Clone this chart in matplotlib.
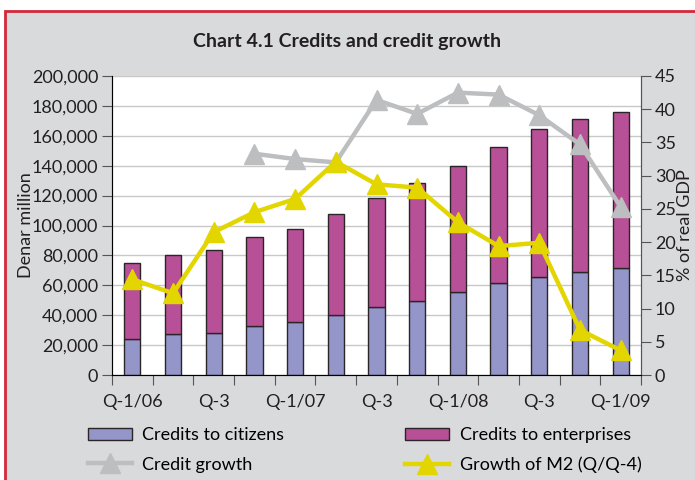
import matplotlib
matplotlib.use("Agg")
import matplotlib.pyplot as plt
from matplotlib.patches import Rectangle, Patch
from matplotlib.lines import Line2D
import numpy as np

plt.rcParams['font.family'] = ['Lato', 'DejaVu Sans']

quarters = ["Q-1/06", "Q-2/06", "Q-3/06", "Q-4/06", "Q-1/07", "Q-2/07", "Q-3/07",
            "Q-4/07", "Q-1/08", "Q-2/08", "Q-3/08", "Q-4/08", "Q-1/09"]
tick_labels = ["Q-1/06", "", "Q-3", "", "Q-1/07", "", "Q-3", "", "Q-1/08", "", "Q-3", "", "Q-1/09"]
citizens = [24200, 27100, 28400, 32700, 35600, 40000, 45600, 49800, 55700, 61500, 65700, 68900, 71600]
totals = [74700, 80500, 83400, 92100, 97700, 107900, 118200, 128200, 139800, 152700, 164300, 171200, 175700]
enterprises = [t - c for t, c in zip(totals, citizens)]
credit_growth = [None, None, None, 33.3, 32.5, 32.0, 41.4, 39.3, 42.5, 42.2, 39.1, 34.7, 25.3]
m2_growth = [14.4, 12.3, 21.5, 24.5, 26.5, 32.1, 28.7, 28.2, 23.0, 19.4, 19.9, 6.8, 3.7]

c_cit = "#9495C9"
c_ent = "#B85098"
c_grey = "#BDBEC0"
c_yel = "#E3D600"
edge = "#2A2526"
txt = "#231F20"
FS = 13

fig = plt.figure(figsize=(6.95, 4.80), dpi=100)
fig.patch.set_facecolor("white")

bg = fig.add_axes([0, 0, 1, 1], zorder=-5)
bg.set_xlim(0, 695)
bg.set_ylim(480, 0)
bg.axis('off')
bg.add_patch(Rectangle((5, 11), 700, 480, facecolor="#D9DADC", edgecolor="#D3283B", linewidth=2.0))

ax = fig.add_axes([112/695, 105/480, 529/695, 299/480], zorder=1)
ax.set_facecolor("white")
x = np.arange(len(quarters))
ax.bar(x, citizens, width=0.4, color=c_cit, edgecolor=edge, linewidth=1.0, zorder=3)
ax.bar(x, enterprises, bottom=citizens, width=0.4, color=c_ent, edgecolor=edge, linewidth=1.0, zorder=3)
ax.set_xlim(-0.5, len(quarters) - 0.5)
ax.set_ylim(0, 200000)
ax.set_yticks(np.arange(0, 200001, 20000))
ax.set_yticklabels([f"{v:,}" for v in range(0, 200001, 20000)], fontsize=FS, color=txt)
ax.yaxis.grid(True, color="#C8C8C8", linewidth=1.0, zorder=0)
ax.set_axisbelow(True)
ax.set_xticks(np.arange(-0.5, len(quarters), 1.0))
ax.set_xticklabels([])
ax.set_xticks(x, minor=True)
ax.set_xticklabels(tick_labels, minor=True, fontsize=FS, color=txt)
ax.tick_params(axis='x', which='minor', length=0, pad=14)
ax.tick_params(axis='x', which='major', length=7, color="#555555", direction='out')
ax.tick_params(axis='y', length=7, color="#555555", direction='out', pad=3)
ax.spines['top'].set_visible(False)
for s in ['left', 'bottom', 'right']:
    ax.spines[s].set_color("#555555")
ax.set_ylabel("Denar million", fontsize=FS, color=txt)
ax.yaxis.set_label_coords((34 - 112) / 529, 0.5)

ax2 = ax.twinx()
cg_x = [i for i, v in enumerate(credit_growth) if v is not None]
cg_y = [v for v in credit_growth if v is not None]
ax2.plot(cg_x, cg_y, color=c_grey, linewidth=3.2, marker='^', markersize=15, zorder=4)
ax2.plot(x, m2_growth, color=c_yel, linewidth=3.2, marker='^', markersize=15, zorder=5)
ax2.set_ylim(0, 45)
ax2.set_yticks(np.arange(0, 46, 5))
ax2.set_yticklabels([str(v) for v in range(0, 46, 5)], fontsize=FS, color=txt)
ax2.tick_params(axis='y', length=7, color="#555555", direction='out', pad=3)
ax2.spines['top'].set_visible(False)
ax2.spines['right'].set_color("#555555")
ax2.set_ylabel("% of real GDP", fontsize=FS, color=txt)
ax2.yaxis.set_label_coords((677 - 112) / 529, 0.5)

fig.text(0.5, 1 - 42/480, "Chart 4.1 Credits and credit growth", ha='center', va='center',
         fontsize=14, fontweight='bold', color=txt)

handles = [
    Patch(facecolor=c_cit, edgecolor=edge, linewidth=1.0, label="Credits to citizens"),
    Line2D([], [], color=c_grey, linewidth=3.2, marker='^', markersize=15, label="Credit growth"),
    Patch(facecolor=c_ent, edgecolor=edge, linewidth=1.0, label="Credits to enterprises"),
    Line2D([], [], color=c_yel, linewidth=3.2, marker='^', markersize=15, label="Growth of M2 (Q/Q-4)"),
]
fig.legend(handles=handles, ncol=2, loc='upper left', bbox_to_anchor=(81/695, 1 - 420/480),
           frameon=False, fontsize=FS, handlelength=2.4, handleheight=0.7,
           columnspacing=6.7, labelspacing=0.75, handletextpad=0.6, borderaxespad=0)

fig.savefig("out.png", dpi=100, facecolor=fig.get_facecolor())
